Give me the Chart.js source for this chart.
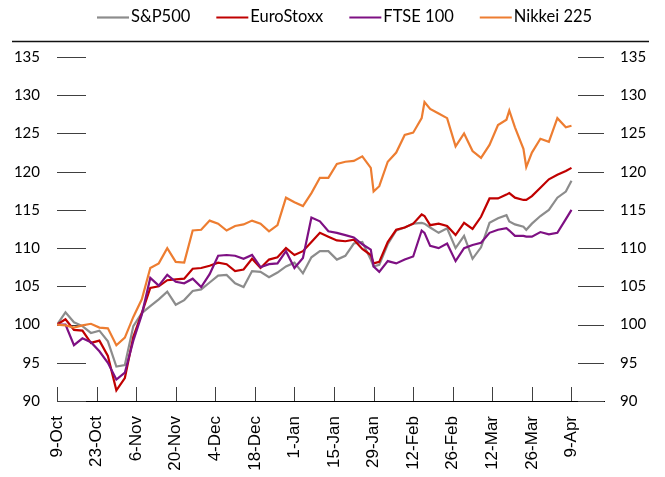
<!DOCTYPE html>
<html>
<head>
<meta charset="utf-8">
<script src="https://cdn.jsdelivr.net/npm/chart.js@4.4.1/dist/chart.umd.min.js"></script>
<style>
  html, body { margin: 0; padding: 0; background: #fff; }
  #wrap { width: 665px; height: 477px; }
</style>
</head>
<body>
<div id="wrap"><canvas id="chart" width="665" height="477"></canvas></div>
<script>
// calendar days after 9-Oct
var days = [0,3,6,9,12,15,18,21,24,27,30,33,36,39,42,45,48,51,54,57,60,63,66,69,72,75,78,81,84,87,
  90,93,96,99,102,105,108,111,112,114,117,120,123,126,129,130,132,135,138,141,144,147,150,153,156,159,
  160,162,165,166,168,171,174,177,180,182];

var sp500 = [100,101.6,100.3,99.8,98.9,99.2,97.8,94.5,94.7,99.8,101.5,102.4,103.3,104.3,102.6,103.2,
  104.4,104.6,105.5,106.4,106.5,105.4,104.9,107.0,106.9,106.2,106.8,107.6,108.1,106.7,108.8,109.6,
  109.6,108.5,109.0,110.6,110.8,108.5,107.6,107.8,110.5,112.3,112.7,113.2,113.3,113.2,112.7,112.0,
  112.6,110.0,111.6,108.6,110.1,113.3,113.9,114.3,113.5,113.1,112.8,112.4,113.2,114.2,115.0,116.6,
  117.4,118.8];

var euroStoxx = [100,100.7,99.3,99.2,97.6,97.9,95.9,91.4,93.0,98.4,101.5,104.8,105.0,105.8,105.9,106.0,
  107.3,107.4,107.7,108.1,107.9,107.0,107.2,108.6,107.4,108.5,108.8,110.0,109.1,109.6,110.8,112.0,
  111.5,111.0,110.9,111.1,109.9,109.1,108.0,108.2,110.8,112.4,112.7,113.2,114.4,114.2,113.0,113.2,
  112.9,111.7,113.3,112.5,114.1,116.5,116.5,117.0,117.2,116.6,116.3,116.3,116.8,117.9,119.0,119.6,
  120.1,120.5];

var ftse100 = [100,100.0,97.3,98.2,97.7,96.5,95.0,92.8,93.7,97.9,101.3,106.1,105.1,106.5,105.6,105.4,
  106.0,104.9,106.6,109.0,109.1,109.0,108.6,109.1,107.5,107.9,108.0,109.6,107.4,108.7,114.0,113.5,
  112.2,112.0,111.7,111.4,110.5,109.8,107.6,106.9,108.3,108.0,108.5,108.9,112.3,112.0,110.3,110.0,
  110.6,108.3,110.0,110.4,110.7,112.0,112.4,112.6,112.3,111.6,111.6,111.5,111.5,112.1,111.8,112.0,
  113.8,115.0];

var nikkei225 = [100,99.9,99.6,99.9,100.1,99.6,99.5,97.3,98.3,101.0,103.3,107.4,108.0,110.0,108.2,108.1,
  112.3,112.4,113.6,113.2,112.3,112.9,113.1,113.6,113.2,112.2,113.0,116.6,116.0,115.5,117.2,119.2,
  119.2,121.0,121.3,121.4,122.0,120.5,117.4,118.1,121.3,122.5,124.8,125.1,127.0,129.1,128.2,127.6,
  127.0,123.3,125.0,122.7,121.8,123.5,126.1,126.8,128.0,125.8,123.0,120.6,122.5,124.3,123.9,127.0,
  125.8,126.0];

var tickLabels = ['9-Oct','23-Oct','6-Nov','20-Nov','4-Dec','18-Dec','1-Jan','15-Jan','29-Jan',
  '12-Feb','26-Feb','12-Mar','26-Mar','9-Apr'];
var yTicks = [90,95,100,105,110,115,120,125,130,135];

function pairs(vals) {
  return days.map(function(d, i) { return { x: d, y: vals[i] }; });
}

function series(label, vals, color, order) {
  return {
    label: label,
    data: pairs(vals),
    borderColor: color,
    backgroundColor: color,
    borderWidth: 2.2,
    pointRadius: 0,
    tension: 0,
    order: order
  };
}

// short tick marks drawn inside the plot, and the rule under the legend
var tickMarks = {
  id: 'tickMarks',
  beforeDatasetsDraw: function(chart) {
    var ctx = chart.ctx, a = chart.chartArea, x = chart.scales.x, y = chart.scales.y;
    ctx.save();
    ctx.strokeStyle = '#404040';
    ctx.lineWidth = 1;
    ctx.beginPath();
    yTicks.forEach(function(v) {
      var py = Math.round(y.getPixelForValue(v)) + 0.5;
      ctx.moveTo(a.left, py); ctx.lineTo(a.left + 29, py);
      ctx.moveTo(a.right - 26, py); ctx.lineTo(a.right, py);
    });
    x.ticks.forEach(function(t) {
      var px = Math.round(x.getPixelForValue(t.value)) + 0.5;
      ctx.moveTo(px, a.bottom); ctx.lineTo(px, a.bottom - 14);
    });
    ctx.stroke();
    ctx.restore();
  },
  afterDraw: function(chart) {
    var ctx = chart.ctx;
    ctx.save();
    ctx.strokeStyle = '#111';
    ctx.lineWidth = 1.5;
    ctx.beginPath();
    ctx.moveTo(12, 41.5); ctx.lineTo(649, 41.5);
    ctx.stroke();
    ctx.restore();
  }
};

// legend row: line sample, small gap, label
var legendRow = {
  id: 'legendRow',
  afterDraw: function(chart) {
    var ctx = chart.ctx, x = 97, y = 17;
    ctx.save();
    ctx.font = '16.5px Lato';
    ctx.textBaseline = 'middle';
    chart.data.datasets.forEach(function(ds) {
      ctx.strokeStyle = ds.borderColor;
      ctx.lineWidth = 2.2;
      ctx.beginPath();
      ctx.moveTo(x, y + 0.5); ctx.lineTo(x + 32, y + 0.5);
      ctx.stroke();
      x += 34;
      ctx.fillStyle = '#000';
      ctx.fillText(ds.label, x, y);
      x += ctx.measureText(ds.label).width + 26;
    });
    ctx.restore();
  }
};

Chart.defaults.font.family = 'Lato';
Chart.defaults.color = '#000';

var yAxis = function(pos, w, pad) {
  return {
    position: pos,
    min: 90,
    max: 135,
    grid: { display: false, drawTicks: false },
    border: { display: false },
    ticks: { stepSize: 5, padding: pad, color: '#000', font: { family: 'Lato', size: 15 } },
    afterFit: function(s) { s.width = w; }
  };
};

new Chart(document.getElementById('chart'), {
  type: 'line',
  data: {
    datasets: [
      series('S&P500', sp500, '#8c8c8c', 3),
      series('EuroStoxx', euroStoxx, '#c00000', 2),
      series('FTSE 100', ftse100, '#7e1083', 1),
      series('Nikkei 225', nikkei225, '#ed7d31', 0)
    ]
  },
  options: {
    responsive: false,
    animation: false,
    layout: { padding: { top: 57, left: 0, right: 0, bottom: 0 } },
    plugins: {
      tooltip: { enabled: false },
      legend: { display: false }
    },
    scales: {
      x: {
        type: 'linear',
        min: 0,
        max: 193.5,
        grid: { display: false, drawTicks: false },
        border: { display: true, color: '#000', width: 1 },
        afterBuildTicks: function(s) {
          s.ticks = tickLabels.map(function(t, i) { return { value: i * 14 }; });
        },
        ticks: {
          autoSkip: false,
          maxRotation: 90,
          minRotation: 90,
          padding: 15,
          color: '#000',
          font: { family: 'Liberation Sans', size: 17 },
          callback: function(v) { return tickLabels[Math.round(v / 14)]; }
        },
        afterFit: function(s) { s.height = 76; }
      },
      y: yAxis('left', 57, 17),
      y2: yAxis('right', 61, 16)
    }
  },
  plugins: [tickMarks, legendRow]
});
</script>
</body>
</html>
